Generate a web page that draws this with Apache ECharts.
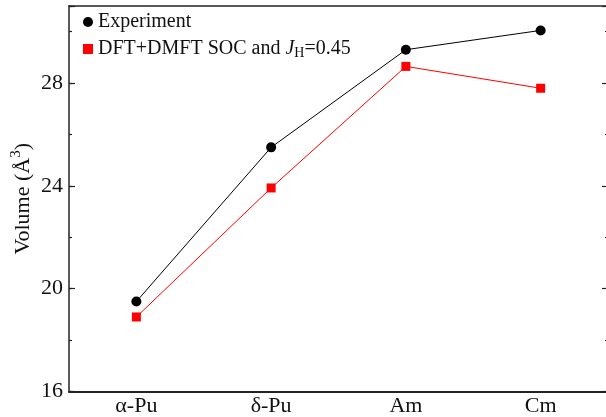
<!DOCTYPE html>
<html>
<head>
<meta charset="utf-8">
<script src="https://cdn.jsdelivr.net/npm/echarts@6/dist/echarts.min.js"></script>
<style>
  html, body { margin: 0; padding: 0; background: #fff; }
  #chart { width: 606px; height: 417px; }
</style>
</head>
<body>
<div id="chart"></div>
<script>
// Atomic volume per element (Å^3)
const elements = ['\u03b1-Pu', '\u03b4-Pu', 'Am', 'Cm'];
const experiment = [19.5, 25.5, 29.3, 30.05];
const dftDmft = [18.9, 23.92, 28.65, 27.8];
const yMin = 16, yMax = 31, yMajor = 4, yMinor = 2;

const serif = 'Liberation Serif';
const axisColor = '#222';

function frameY(position, interval, tickLen, showLine, showLabel) {
  return {
    type: 'value', position: position, min: yMin, max: yMax, interval: interval,
    axisLine: { show: showLine, lineStyle: { color: axisColor, width: 1.5 } },
    axisTick: { show: true, inside: true, length: tickLen, lineStyle: { color: axisColor, width: 1.2 } },
    axisLabel: {
      show: showLabel, margin: 6, fontFamily: serif, fontSize: 22, color: '#111',
      formatter: v => (v % yMajor === 0 ? String(v) : '')
    },
    splitLine: { show: false }
  };
}

const chart = echarts.init(document.getElementById('chart'), null, { renderer: 'canvas' });

const left = frameY('left', yMajor, 6, true, true);
left.name = '{a|Volume (\u00c5}{s|3}{a|)}';
left.nameLocation = 'middle';
left.nameGap = 31;
left.nameMoveOverlap = false;
left.nameTextStyle = {
  rich: {
    a: { fontFamily: serif, fontSize: 22, color: '#111' },
    s: { fontFamily: serif, fontSize: 15, color: '#111', verticalAlign: 'top', padding: [0, 0, 14, 0] }
  }
};

chart.setOption({
  animation: false,
  backgroundColor: '#fff',
  grid: { left: 69, top: 6, width: 539, height: 385.5, containLabel: false, outerBoundsMode: 'none' },
  legend: {
    orient: 'vertical', left: 78, top: 6, itemWidth: 10, itemHeight: 10, itemGap: 5,
    textStyle: {
      fontFamily: serif, fontSize: 20, color: '#111', lineHeight: 22,
      rich: {
        a: { fontFamily: serif, fontSize: 20, color: '#111' },
        i: { fontFamily: serif, fontSize: 20, fontStyle: 'italic', color: '#111' },
        s: { fontFamily: serif, fontSize: 14, color: '#111', verticalAlign: 'bottom', padding: [12, 0, 0, 0] }
      }
    },
    data: [
      { name: 'Experiment', icon: 'circle' },
      { name: 'DFT+DMFT', icon: 'rect' }
    ],
    formatter: name => name === 'Experiment'
      ? '{a|Experiment}'
      : '{a|DFT+DMFT SOC and }{i|J}{s|H}{a|=0.45}'
  },
  xAxis: [
    {
      type: 'category', data: elements, position: 'bottom', boundaryGap: true,
      axisLine: { lineStyle: { color: axisColor, width: 2 } },
      axisTick: { inside: true, alignWithLabel: true, length: 5, lineStyle: { color: axisColor, width: 1.2 } },
      axisLabel: { margin: 4, fontFamily: serif, fontSize: 22, color: '#111' }
    },
    {
      type: 'category', data: elements, position: 'top', boundaryGap: true,
      axisLine: { lineStyle: { color: axisColor, width: 1.5 } },
      axisTick: { inside: true, alignWithLabel: true, length: 5, lineStyle: { color: axisColor, width: 1.2 } },
      axisLabel: { show: false }
    }
  ],
  yAxis: [
    left,
    frameY('left', yMinor, 3, false, false),
    frameY('right', yMajor, 6, false, false),
    frameY('right', yMinor, 3, false, false)
  ],
  series: [
    {
      name: 'Experiment', type: 'line', data: experiment,
      symbol: 'circle', symbolSize: 10, showSymbol: true,
      lineStyle: { color: '#000', width: 1 },
      itemStyle: { color: '#000' }, z: 3
    },
    {
      name: 'DFT+DMFT', type: 'line', data: dftDmft,
      symbol: 'rect', symbolSize: 9, showSymbol: true,
      lineStyle: { color: '#ff0000', width: 1 },
      itemStyle: { color: '#ff0000' }, z: 2
    }
  ]
});
</script>
</body>
</html>
